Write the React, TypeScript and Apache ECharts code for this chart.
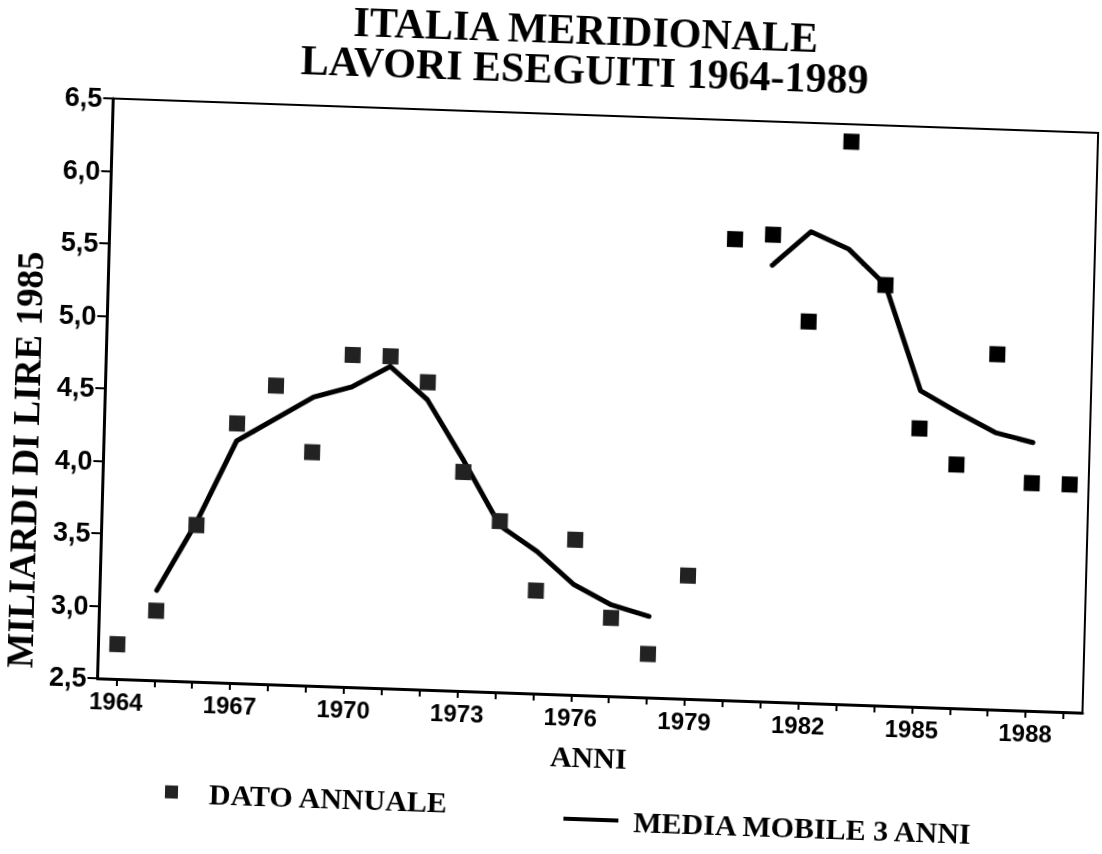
import React, { useEffect, useRef } from "react";
import * as echarts from "echarts";

const years: string[] = [
  "1964", "1965", "1966", "1967", "1968", "1969", "1970", "1971", "1972",
  "1973", "1974", "1975", "1976", "1977", "1978", "1979", "1980", "1981",
  "1982", "1983", "1984", "1985", "1986", "1987", "1988", "1989",
];

// DATO ANNUALE (miliardi di lire 1985)
const annualValues: number[] = [
  2.74, 2.98, 3.58, 4.29, 4.56, 4.11, 4.79, 4.79, 4.62, 4.01, 3.68, 3.21, 3.57,
  3.04, 2.8, 3.35, 5.68, 5.72, 5.13, 6.38, 5.4, 4.42, 4.18, 4.95, 4.07, 4.07,
];

// MEDIA MOBILE 3 ANNI (null = no value drawn)
const movingAverage: (number | null)[] = [
  null, 3.12, 3.6, 4.17, 4.33, 4.49, 4.57, 4.72, 4.5, 4.09, 3.65, 3.48, 3.26,
  3.13, 3.06, null, null, 5.51, 5.75, 5.64, 5.4, 4.68, 4.54, 4.41, 4.35, null,
];

// years from which the annual markers are drawn solid
const solidYears: string[] = [
  "1980", "1981", "1982", "1983", "1984", "1985", "1986", "1987", "1988", "1989",
];

const titleLines: string[] = ["ITALIA MERIDIONALE", "LAVORI ESEGUITI 1964-1989"];
const yAxisName = "MILIARDI DI LIRE 1985";
const xAxisName = "ANNI";
const annualName = "DATO ANNUALE";
const averageName = "MEDIA MOBILE 3 ANNI";

const SERIF = "'Liberation Serif', 'Times New Roman', serif";
const SANS = "'Liberation Sans', Arial, sans-serif";

export default function App() {
  const ref = useRef<HTMLDivElement>(null);

  useEffect(() => {
    if (!ref.current) return;
    const chart = echarts.init(ref.current, undefined, { renderer: "svg" });

    const scatterData = annualValues.map((v, i) =>
      solidYears.includes(years[i])
        ? { value: v, itemStyle: { color: "#000000", opacity: 1 } }
        : { value: v }
    );

    chart.setOption({
      animation: false,
      backgroundColor: "#ffffff",
      title: {
        text: titleLines.join("\n"),
        left: 575,
        top: 9,
        padding: 0,
        textAlign: "center",
        textStyle: {
          fontFamily: SERIF,
          fontWeight: "bold",
          fontSize: 42,
          lineHeight: 40,
          color: "#000",
        },
      },
      legend: [
        {
          data: [annualName],
          left: 175,
          top: 790,
          padding: 0,
          icon: "rect",
          itemWidth: 13,
          itemHeight: 13,
          textStyle: {
            fontFamily: SERIF,
            fontWeight: "bold",
            fontSize: 30,
            color: "#000",
            padding: [0, 0, 0, 26],
          },
        },
        {
          data: [averageName],
          left: 574,
          top: 803,
          padding: 0,
          icon: "rect",
          itemWidth: 55,
          itemHeight: 4,
          textStyle: {
            fontFamily: SERIF,
            fontWeight: "bold",
            fontSize: 30,
            color: "#000",
            padding: [0, 0, 0, 10],
          },
        },
      ],
      grid: {
        left: 95,
        right: 12,
        top: 114,
        bottom: 160,
        show: true,
        borderColor: "#000",
        borderWidth: 2,
        containLabel: false,
      },
      xAxis: {
        type: "category",
        data: years,
        boundaryGap: true,
        name: xAxisName,
        nameLocation: "middle",
        nameGap: 46,
        nameTextStyle: {
          fontFamily: SERIF,
          fontWeight: "bold",
          fontSize: 30,
          color: "#000",
        },
        axisLine: { show: true, lineStyle: { color: "#000", width: 3 } },
        axisTick: {
          show: true,
          alignWithLabel: true,
          interval: 0,
          length: 7,
          lineStyle: { color: "#000", width: 2 },
        },
        axisLabel: {
          interval: 2,
          margin: 10,
          fontFamily: SANS,
          fontWeight: "bold",
          fontSize: 24,
          color: "#000",
        },
        splitLine: { show: false },
      },
      yAxis: {
        type: "value",
        min: 2.5,
        max: 6.5,
        interval: 0.5,
        name: yAxisName,
        nameLocation: "middle",
        nameRotate: 90,
        nameGap: 51,
        nameTextStyle: {
          fontFamily: SERIF,
          fontWeight: "bold",
          fontSize: 37,
          color: "#000",
          padding: [0, 148, 0, 0],
        },
        axisLine: { show: true, lineStyle: { color: "#000", width: 3 } },
        axisTick: {
          show: true,
          length: 10,
          lineStyle: { color: "#000", width: 2 },
        },
        axisLabel: {
          margin: 11,
          fontFamily: SANS,
          fontWeight: "bold",
          fontSize: 27,
          color: "#000",
          formatter: (v: number) => v.toFixed(1).replace(".", ","),
        },
        splitLine: { show: false },
      },
      series: [
        {
          name: averageName,
          type: "line",
          data: movingAverage,
          symbol: "none",
          connectNulls: false,
          color: "#000",
          lineStyle: { color: "#000", width: 5, cap: "round", join: "round" },
          z: 2,
        },
        {
          name: annualName,
          type: "scatter",
          data: scatterData,
          symbol: "rect",
          symbolSize: 16,
          color: "#222222",
          itemStyle: { color: "#222222", opacity: 1 },
          z: 3,
        },
      ],
    });

    return () => chart.dispose();
  }, []);

  return (
    <div
      ref={ref}
      style={{
        position: "fixed",
        left: 0,
        top: 0,
        width: 1102,
        height: 854,
        transform: "rotate(2deg) skewX(0.45deg)",
        transformOrigin: "551px 427px",
      }}
    />
  );
}
